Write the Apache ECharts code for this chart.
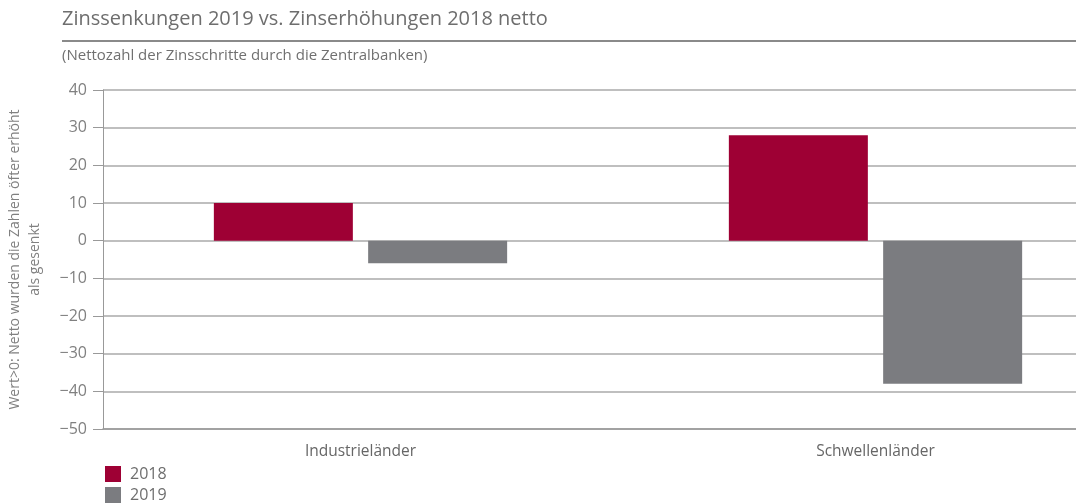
<!DOCTYPE html>
<html>
<head>
<meta charset="utf-8">
<script src="https://cdn.jsdelivr.net/npm/echarts@6/dist/echarts.min.js"></script>
<style>
  html, body { margin: 0; padding: 0; background: #fff; }
  #chart { width: 1076px; height: 504px; }
</style>
</head>
<body>
<div id="chart"></div>
<script>
  // Nettozahl der Zinsschritte
  const categories = ['Industrieländer', 'Schwellenländer']
  const values2018 = [10, 28]
  const values2019 = [-6, -38]
  const yTicks = { min: -50, max: 40, interval: 10 }

  const font = '"Open Sans", Lato, sans-serif'
  let chart = echarts.init(document.getElementById('chart'))

  let options = {
    animation: false,
    textStyle: { fontFamily: font },
    title: [
      {
        text: 'Zinssenkungen 2019 vs. Zinserhöhungen 2018 netto',
        left: 62,
        top: 9,
        padding: 0,
        textStyle: { fontSize: 20, fontWeight: 'normal', color: '#6e6e6e', fontFamily: font }
      },
      {
        text: '(Nettozahl der Zinsschritte durch die Zentralbanken)',
        left: 62,
        top: 48,
        padding: 0,
        textStyle: { fontSize: 15, fontWeight: 'normal', color: '#707070', fontFamily: font }
      }
    ],
    graphic: [
      {
        type: 'line',
        shape: { x1: 62, y1: 41, x2: 1076, y2: 41 },
        style: { stroke: '#8a8a8a', lineWidth: 2 }
      }
    ],
    legend: {
      orient: 'vertical',
      left: 105,
      top: 466,
      padding: 0,
      itemWidth: 16,
      itemHeight: 16,
      itemGap: 5,
      icon: 'rect',
      textStyle: { fontSize: 16, color: '#6e6e6e', padding: [0, 0, 0, 4] },
      data: ['2018', '2019']
    },
    grid: {
      left: 103,
      top: 90,
      width: 1030,
      height: 339,
      outerBoundsMode: 'none'
    },
    xAxis: {
      type: 'category',
      data: categories,
      axisLine: { onZero: false, lineStyle: { color: '#999', width: 1.5 } },
      axisTick: { show: false },
      axisLabel: { fontSize: 15.5, color: '#666', margin: 15 }
    },
    yAxis: {
      type: 'value',
      min: yTicks.min,
      max: yTicks.max,
      interval: yTicks.interval,
      name: 'Wert>0: Netto wurden die Zahlen öfter erhöht\nals gesenkt',
      nameLocation: 'middle',
      nameGap: 58,
      nameTextStyle: { fontSize: 14, color: '#808080', lineHeight: 20 },
      axisLine: { show: true, lineStyle: { color: '#999', width: 1 } },
      axisTick: { show: true, length: 10, lineStyle: { color: '#999' } },
      axisLabel: {
        fontSize: 16,
        color: '#808080',
        margin: 16,
        formatter: function (v) {
          return String(v).replace('-', '\u2212')
        }
      },
      splitLine: { lineStyle: { color: '#aaa', width: 1.5 } }
    },
    series: [
      {
        name: '2018',
        type: 'bar',
        barWidth: 139,
        barGap: '11%',
        itemStyle: { color: '#9e0034' },
        data: values2018
      },
      {
        name: '2019',
        type: 'bar',
        barWidth: 139,
        barGap: '11%',
        itemStyle: { color: '#7b7c80' },
        data: values2019
      }
    ]
  }
  chart.setOption(options)
</script>
</body>
</html>
